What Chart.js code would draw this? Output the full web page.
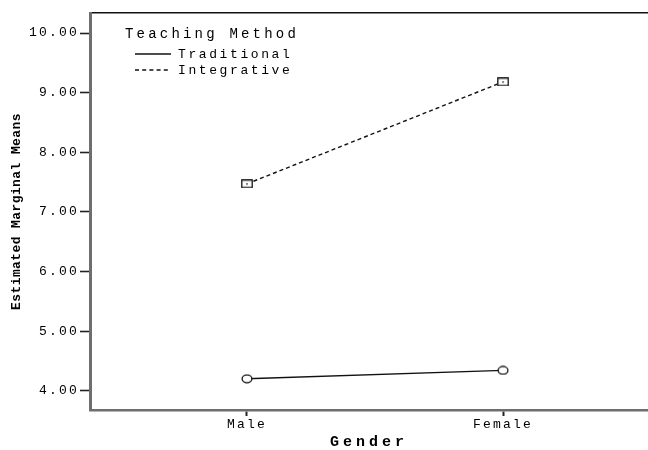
<!DOCTYPE html>
<html lang="en">
<head>
  <meta charset="UTF-8" />
  <title>Estimated Marginal Means</title>
  <script src="https://cdn.jsdelivr.net/npm/chart.js"></script>
  <style>
    body {
      margin: 0;
      padding: 0;
      background: #fff;
      overflow: hidden;
    }

    .wrap {
      position: relative;
      width: 648px;
      height: 450px;
    }

    #legend {
      position: absolute;
      left: 125px;
      top: 26px;
      font-family: 'Liberation Mono', 'Courier New', monospace;
      color: #000;
    }

    #legend .title {
      font-size: 14px;
      line-height: 16px;
      letter-spacing: 3.2px;
      margin-bottom: 4px;
    }

    #legend .row {
      display: flex;
      align-items: center;
      height: 16px;
      font-size: 13px;
      letter-spacing: 2.6px;
    }

    #legend svg {
      margin-left: 10px;
      margin-right: 7px;
    }
  </style>
</head>
<body>
  <div class="wrap">
    <canvas id="emmChart" width="648" height="450"></canvas>
    <div id="legend"></div>
  </div>

  <script>
    // values
    const genders = ['Male', 'Female'];
    const traditional = [4.20, 4.34];
    const integrative = [7.47, 9.18];
    const yTicks = [4, 5, 6, 7, 8, 9, 10];
    const seriesNames = ['Traditional', 'Integrative'];

    const FONT = "'Liberation Mono', 'Courier New', monospace";

    // marker images (SPSS style: open ellipse / open box with dot)
    function circleMark() {
      const c = document.createElement('canvas');
      c.width = 12; c.height = 10;
      const g = c.getContext('2d');
      g.fillStyle = '#fff';
      g.strokeStyle = '#111';
      g.lineWidth = 1.3;
      g.beginPath();
      g.ellipse(6, 5, 4.9, 3.8, 0, 0, Math.PI * 2);
      g.fill();
      g.stroke();
      return c;
    }

    function boxMark() {
      const c = document.createElement('canvas');
      c.width = 12; c.height = 9;
      const g = c.getContext('2d');
      g.fillStyle = '#fff';
      g.fillRect(0, 0, 12, 9);
      g.strokeStyle = '#111';
      g.lineWidth = 1.3;
      g.strokeRect(0.8, 0.8, 10.4, 7.4);
      g.fillStyle = '#333';
      g.fillRect(5, 4, 2, 1.2);
      return c;
    }

    const toPoints = vals => vals.map((v, i) => ({ x: i, y: v }));

    const datasets = [
      {
        label: seriesNames[0],
        data: toPoints(traditional),
        borderColor: '#111',
        borderWidth: 1.4,
        pointStyle: circleMark(),
        dash: []
      },
      {
        label: seriesNames[1],
        data: toPoints(integrative),
        borderColor: '#111',
        borderWidth: 1.4,
        borderDash: [4, 3],
        pointStyle: boxMark(),
        dash: [4, 3.2]
      }
    ];

    // letter spacing to mimic the wide SPSS courier text
    function spaced(scale, px) {
      if (scale._spacedWrap) return;
      const orig = scale.drawTitle.bind(scale);
      scale.drawTitle = function () {
        const ctx = this.ctx;
        ctx.save();
        ctx.letterSpacing = px;
        orig();
        ctx.restore();
      };
      scale._spacedWrap = true;
    }

    const spacing = {
      id: 'spacing',
      afterUpdate(chart) {
        spaced(chart.scales.x, '4px');
        spaced(chart.scales.y, '0.4px');
      },
      beforeDraw(chart) {
        chart.ctx.letterSpacing = '2.2px';
      }
    };

    const noSidePad = s => { s.paddingLeft = 0; s.paddingRight = 0; };

    const chart = new Chart(document.getElementById('emmChart').getContext('2d'), {
      type: 'line',
      data: { datasets: datasets },
      options: {
        responsive: false,
        animation: false,
        devicePixelRatio: 1,
        layout: {
          autoPadding: false,
          padding: { top: 13, right: 0, left: 0, bottom: 0 }
        },
        elements: {
          line: { tension: 0 },
          point: { radius: 5, hoverRadius: 5 }
        },
        plugins: {
          legend: { display: false },
          tooltip: { enabled: false }
        },
        scales: {
          x: {
            type: 'linear',
            position: 'bottom',
            min: -0.613,
            max: 1.566,
            afterBuildTicks: s => { s.ticks = genders.map((g, i) => ({ value: i })); },
            afterFit: s => { s.height = 40; noSidePad(s); },
            ticks: {
              callback: v => genders[v],
              font: { family: FONT, size: 13 },
              color: '#000',
              padding: 1,
              maxRotation: 0
            },
            grid: {
              drawOnChartArea: false,
              drawTicks: true,
              tickLength: 6,
              tickWidth: 2,
              tickColor: '#222'
            },
            border: { display: true, color: '#6e6e6e', width: 2.5 },
            title: {
              display: true,
              text: 'Gender',
              color: '#000',
              font: { family: FONT, size: 15, weight: 'bold', lineHeight: 1 },
              padding: { top: 0, bottom: 0 }
            }
          },
          x2: {
            type: 'linear',
            position: 'top',
            min: 0,
            max: 1,
            afterFit: s => { s.height = 0; noSidePad(s); },
            ticks: { display: false },
            grid: { drawOnChartArea: false, drawTicks: false },
            border: { display: true, color: '#111', width: 1.5 }
          },
          y: {
            min: 3.676,
            max: 10.336,
            afterBuildTicks: s => { s.ticks = yTicks.map(v => ({ value: v })); },
            afterFit: s => { s.width = 90; },
            ticks: {
              callback: v => v.toFixed(2),
              font: { family: FONT, size: 13 },
              color: '#000',
              padding: 1
            },
            grid: {
              drawOnChartArea: false,
              drawTicks: true,
              tickLength: 10,
              tickWidth: 1.6,
              tickColor: '#222'
            },
            border: { display: true, color: '#6e6e6e', width: 3 },
            title: {
              display: true,
              text: 'Estimated Marginal Means',
              color: '#000',
              font: { family: FONT, size: 13, weight: 'bold', lineHeight: 1 },
              padding: { top: 10.5, bottom: 0 }
            }
          }
        }
      },
      plugins: [spacing]
    });

    // legend built from the dataset config
    function renderLegend() {
      const box = document.getElementById('legend');
      let html = '<div class="title">Teaching Method</div>';
      chart.data.datasets.forEach(ds => {
        html += `<div class="row">
          <svg width="36" height="4"><line x1="0" y1="2" x2="36" y2="2" stroke="#111" stroke-width="1.3" stroke-dasharray="${ds.dash.join(' ')}"/></svg>
          <span>${ds.label}</span>
        </div>`;
      });
      box.innerHTML = html;
    }

    renderLegend();
  </script>
</body>
</html>
